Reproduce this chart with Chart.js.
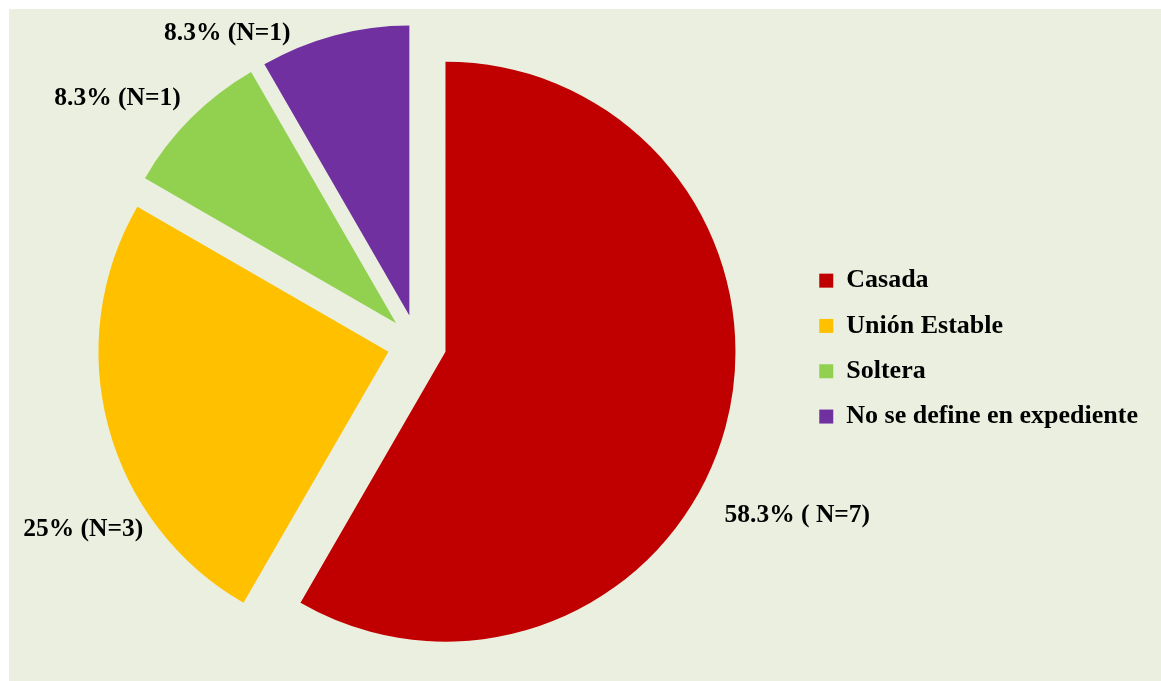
<!DOCTYPE html>
<html>
<head>
<meta charset="utf-8">
<script src="https://cdn.jsdelivr.net/npm/chart.js@4"></script>
<style>
  html, body { margin: 0; padding: 0; background: #ffffff; }
  #wrap { position: absolute; left: 9px; top: 9px; width: 1152px; height: 672px; background: #EBEFDF; }
</style>
</head>
<body>
<div id="wrap"><canvas id="pieChart" width="1152" height="672"></canvas></div>
<script>
const categories = ["Casada", "Unión Estable", "Soltera", "No se define en expediente"];
const counts = [7, 3, 1, 1];
const pctLabels = ["58.3% ( N=7)", "25% (N=3)", "8.3% (N=1)", "8.3% (N=1)"];
const colors = ["#C00000", "#FFC000", "#92D050", "#7030A0"];

// where each outside label sits: angle (deg, clockwise from top) and distance from pie centre
const labelAngle = [114.2, 240.9, 309.3, 328.6];
const labelDist = [417, 382, 387, 364];

const font = "'Liberation Serif', 'Times New Roman', serif";
const pieRadius = 290;

// Chart.js enlarges (and narrows) exploded slices depending on their size.
// The "fix" it uses is 1 - sin(circumference); give it a quarter turn so it is 0
// and every slice keeps the plain radius and its exact angles.
const plainExplode = {
    id: "plainExplode",
    beforeDatasetsDraw(chart) {
        chart.getDatasetMeta(0).data.forEach(arc => {
            arc.circumference = Math.PI / 2;
        });
    }
};

// draw the percentage labels outside the slices
const outsideLabels = {
    id: "outsideLabels",
    afterDatasetsDraw(chart) {
        const ctx = chart.ctx;
        const meta = chart.getDatasetMeta(0);
        const cx = meta.data[0].x;
        const cy = meta.data[0].y;
        ctx.save();
        ctx.font = "bold 25.5px " + font;
        ctx.fillStyle = "#000";
        ctx.textAlign = "center";
        ctx.textBaseline = "middle";
        pctLabels.forEach((txt, i) => {
            const a = labelAngle[i] * Math.PI / 180;
            const x = cx + Math.sin(a) * labelDist[i];
            const y = cy - Math.cos(a) * labelDist[i];
            ctx.fillText(txt, x, y);
        });
        ctx.restore();
    }
};

const ctx = document.getElementById("pieChart").getContext("2d");

new Chart(ctx, {
    type: "pie",
    data: {
        labels: categories,
        datasets: [{
            data: counts,
            backgroundColor: colors,
            borderWidth: 0,
            offset: 118,   // ~30px explode for each slice
            hoverOffset: 0
        }]
    },
    options: {
        responsive: false,
        animation: false,
        radius: pieRadius,
        layout: { padding: { left: 25, right: 13, top: 0, bottom: 2 } },
        plugins: {
            legend: {
                position: "right",
                title: { display: true, text: "", font: { size: 1 }, padding: { top: 4, bottom: 4 } },
                labels: {
                    color: "#000",
                    font: { family: font, size: 26, weight: "bold" },
                    boxWidth: 14,
                    boxHeight: 14,
                    padding: 19.3
                }
            },
            tooltip: { enabled: false }
        }
    },
    plugins: [plainExplode, outsideLabels]
});
</script>
</body>
</html>
